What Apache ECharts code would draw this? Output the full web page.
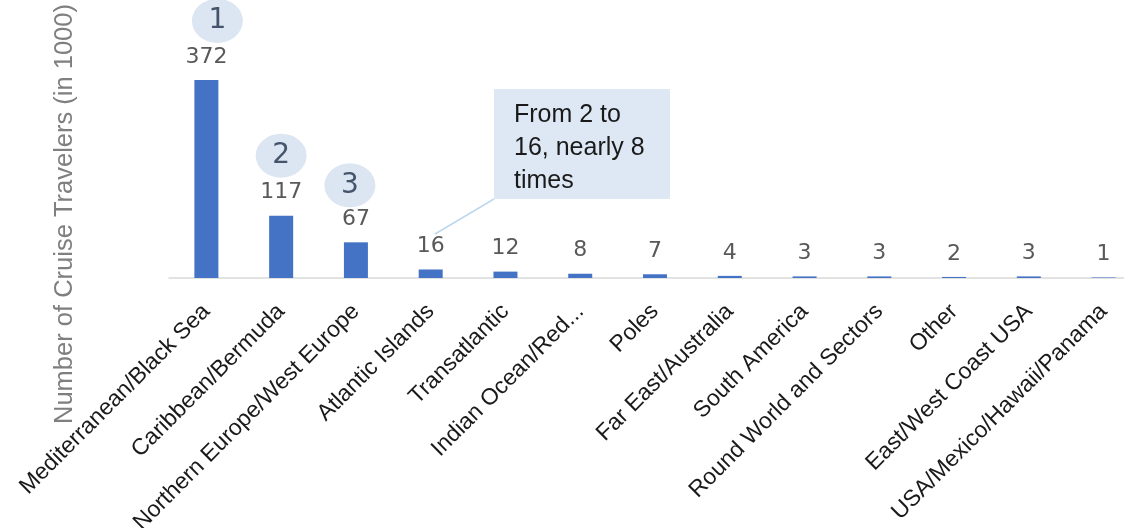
<!DOCTYPE html>
<html>
<head>
<meta charset="utf-8">
<script src="https://cdn.jsdelivr.net/npm/echarts@6/dist/echarts.min.js"></script>
<style>html,body{margin:0;padding:0;background:#fff;}#c{width:1124px;height:528px;}</style>
</head>
<body>
<div id="c"></div>
<script>
var categories = ["Mediterranean/Black Sea","Caribbean/Bermuda","Northern Europe/West Europe","Atlantic Islands","Transatlantic","Indian Ocean/Red...","Poles","Far East/Australia","South America","Round World and Sectors","Other","East/West Coast USA","USA/Mexico/Hawaii/Panama"];
var travelers = [372,117,67,16,12,8,7,4,3,3,2,3,1];
var rankLabels = ["1","2","3"];
var yAxisTitle = "Number of Cruise Travelers (in 1000)";
var calloutText = "From 2 to\n16, nearly 8\ntimes";

var ellipse = 'path://M0,1A1,1 0 1 1 2,1A1,1 0 1 1 0,1Z';
var rankOffsets = [[11,-59],[0,-60],[-6,-57]];
var markData = rankLabels.map(function(r,i){
  return {coord:[i, travelers[i]], value:r, symbolOffset:rankOffsets[i]};
});

var chart = echarts.init(document.getElementById('c'));
chart.setOption({
  animation:false,
  grid:{left:169, width:972, top:65, bottom:250, containLabel:false, outerBoundsMode:'none'},
  xAxis:{
    type:'category', data:categories,
    axisLine:{lineStyle:{color:'#d9d9d9', width:1.5}},
    axisTick:{show:false},
    axisLabel:{rotate:45, interval:0, margin:30, color:'#1a1a1a', fontFamily:'Liberation Sans', fontSize:23}
  },
  yAxis:{type:'value', min:0, max:400, show:false, splitLine:{show:false}},
  series:[{
    type:'bar', data:travelers, barWidth:24,
    itemStyle:{color:'#4472c4'},
    label:{show:true, position:'top', distance:12, color:'#595959', fontFamily:'DejaVu Sans', fontSize:22},
    markPoint:{
      symbol:ellipse, symbolSize:[51,44],
      itemStyle:{color:'#dce6f2'},
      label:{show:true, color:'#44546a', fontFamily:'DejaVu Sans', fontSize:28, formatter:function(p){return p.value;}},
      data:markData
    }
  }],
  graphic:[
    {type:'text', x:65, y:214, rotation:Math.PI/2,
     style:{text:yAxisTitle, fill:'#7f7f7f', font:'25.5px "Liberation Sans"', textAlign:'center', textVerticalAlign:'middle'}},
    {type:'line', shape:{x1:494, y1:199, x2:435, y2:234}, style:{stroke:'#bdd7ee', lineWidth:1.5}},
    {type:'rect', shape:{x:494, y:89, width:176, height:110}, style:{fill:'#dde8f4'}},
    {type:'text', x:514, y:99,
     style:{text:calloutText, fill:'#1a1a1a', font:'25px "Liberation Sans"', lineHeight:33, textAlign:'left', textVerticalAlign:'top'}}
  ]
});
</script>
</body>
</html>
